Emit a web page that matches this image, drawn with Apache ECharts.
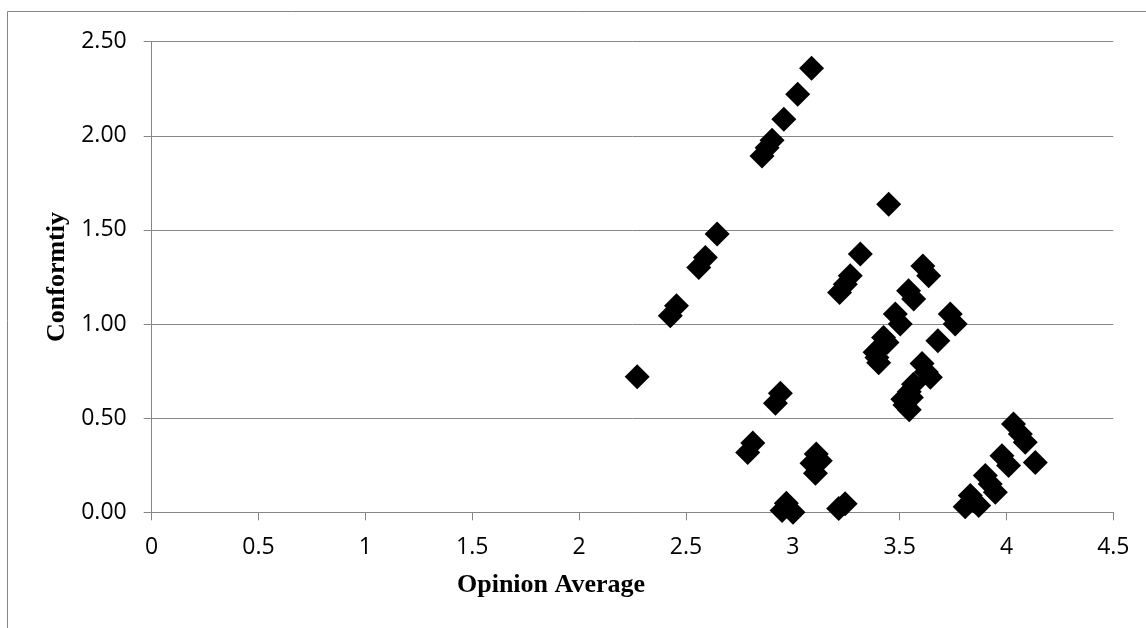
<!DOCTYPE html>
<html>
<head>
<meta charset="utf-8">
<script src="https://cdn.jsdelivr.net/npm/echarts@6/dist/echarts.min.js"></script>
<style>
  html, body { margin: 0; padding: 0; background: #ffffff; }
  #chart { width: 1146px; height: 628px; }
</style>
</head>
<body>
<div id="chart"></div>
<script>
// Opinion Average (x) and Conformtiy (y) for each respondent
var opinionAvg = [
  3.088, 3.023, 2.958, 2.903, 2.880, 2.856, 3.449, 2.646, 2.591, 2.560,
  3.316, 3.269, 3.246, 3.219, 3.609, 3.636, 3.542, 3.566, 3.480, 3.503,
  3.737, 3.760, 3.679, 3.425, 3.441, 3.410, 3.394, 3.402, 3.385, 3.605,
  3.644, 3.625, 3.565, 3.545, 3.515, 3.525, 3.545, 3.555, 2.456, 2.427,
  2.272, 2.942, 2.919, 2.813, 2.789, 3.110, 3.129, 3.090, 3.106, 2.970,
  2.950, 3.001, 3.215, 3.245, 4.033, 4.065, 4.088, 4.135, 3.979, 4.010,
  3.901, 3.924, 3.948, 3.831, 3.807, 3.870, 3.846
];
var conformity = [
  2.359, 2.221, 2.088, 1.977, 1.937, 1.893, 1.637, 1.478, 1.354, 1.300,
  1.372, 1.256, 1.212, 1.168, 1.309, 1.256, 1.177, 1.133, 1.053, 1.000,
  1.053, 1.000, 0.911, 0.929, 0.902, 0.876, 0.823, 0.795, 0.850, 0.790,
  0.717, 0.745, 0.680, 0.640, 0.600, 0.570, 0.545, 0.610, 1.097, 1.044,
  0.720, 0.632, 0.579, 0.368, 0.318, 0.310, 0.274, 0.260, 0.207, 0.048,
  0.009, 0.000, 0.020, 0.045, 0.469, 0.416, 0.372, 0.265, 0.301, 0.248,
  0.195, 0.151, 0.106, 0.089, 0.030, 0.036, 0.062
];
var xTicks = [0, 0.5, 1, 1.5, 2, 2.5, 3, 3.5, 4, 4.5];
var yTicks = [0, 0.5, 1, 1.5, 2, 2.5];
var xTitle = 'Opinion Average';
var yTitle = 'Conformtiy';

var points = opinionAvg.map(function (x, i) { return [x, conformity[i]]; });

var gridColor = '#868686';
var labelFont = { fontFamily: '"Open Sans", sans-serif', fontSize: 23, color: '#000000' };

var chart = echarts.init(document.getElementById('chart'), null, { renderer: 'canvas' });
chart.setOption({
  animation: false,
  backgroundColor: '#ffffff',
  graphic: [{
    type: 'rect',
    shape: { x: 7.5, y: 11.5, width: 1300, height: 800 },
    style: { fill: 'none', stroke: gridColor, lineWidth: 1 },
    silent: true,
    z: -10
  }],
  title: {
    text: xTitle,
    left: 546,
    textAlign: 'center',
    top: 567,
    textStyle: {
      fontFamily: '"Liberation Serif", "Times New Roman", serif',
      fontWeight: 'bold',
      fontSize: 26,
      color: '#000000'
    }
  },
  grid: { left: 151.7, right: 32.7, top: 41.7, bottom: 115.7, containLabel: false },
  xAxis: {
    type: 'value',
    min: xTicks[0],
    max: xTicks[xTicks.length - 1],
    interval: 0.5,
    axisLine: { show: true, onZero: false, lineStyle: { color: gridColor, width: 1 } },
    axisTick: { show: true, inside: false, length: 8, lineStyle: { color: gridColor } },
    splitLine: { show: false },
    axisLabel: Object.assign({ margin: 24, formatter: function (v) { return String(v); } }, labelFont)
  },
  yAxis: {
    type: 'value',
    min: yTicks[0],
    max: yTicks[yTicks.length - 1],
    interval: 0.5,
    name: yTitle,
    nameLocation: 'middle',
    nameRotate: 90,
    nameGap: 80,
    nameTextStyle: {
      fontFamily: '"Liberation Serif", "Times New Roman", serif',
      fontWeight: 'bold',
      fontSize: 26,
      color: '#000000'
    },
    axisLine: { show: true, lineStyle: { color: gridColor, width: 1 } },
    axisTick: { show: true, inside: false, length: 8, lineStyle: { color: gridColor } },
    splitLine: { show: true, lineStyle: { color: gridColor, width: 1 } },
    axisLabel: Object.assign({ margin: 25, formatter: function (v) { return v.toFixed(2); } }, labelFont)
  },
  series: [{
    type: 'scatter',
    symbol: 'diamond',
    symbolSize: 25,
    itemStyle: { color: '#000000', opacity: 1 },
    data: points
  }]
});
</script>
</body>
</html>
